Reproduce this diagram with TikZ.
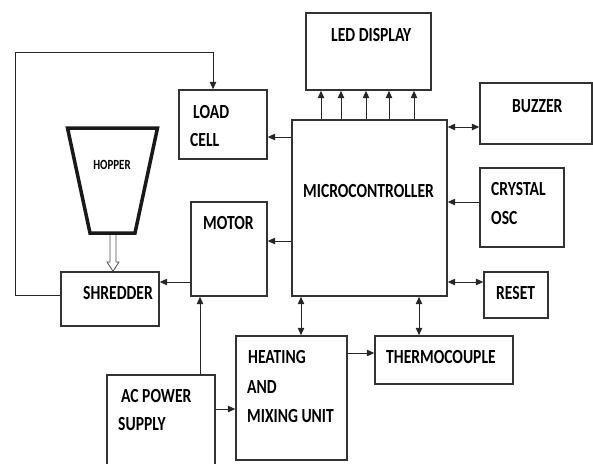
\documentclass[tikz,border=0pt]{standalone}
\usepackage{fontspec}
\newfontfamily\lblfont[FakeStretch=0.78]{Carlito}
\usetikzlibrary{arrows.meta, calc}

\begin{document}
\begin{tikzpicture}[x=1pt, y=-1pt,
    box/.style={draw=black!80, line width=1.4pt, inner sep=0pt},
    lbl/.style={inner sep=0pt, anchor=west, font=\lblfont\bfseries\fontsize{20}{23}\selectfont},
    arr/.style={-{Triangle[length=7.5pt,width=6.5pt]}, line width=1pt, black!85},
    dblarr/.style={{Triangle[length=7.5pt,width=6.5pt]}-{Triangle[length=7.5pt,width=6.5pt]}, line width=1pt, black!85}]

    % Frame (page size)
    \clip (0,0) rectangle (593,463);

    % Blocks
    \node[box, minimum width=125, minimum height=77] (led) at (368.5,51.5) {};
    \node[box, minimum width=155, minimum height=176] (micro) at (369.5,208) {};
    \node[box, minimum width=112, minimum height=61] (buzzer) at (536,113.5) {};
    \node[box, minimum width=84, minimum height=79] (crystal) at (522,207.5) {};
    \node[box, minimum width=88, minimum height=69] (load) at (223,124.5) {};
    \node[box, minimum width=76, minimum height=94] (motor) at (229,249) {};
    \node[box, minimum width=98, minimum height=54] (shredder) at (110,299) {};
    \node[box, minimum width=64, minimum height=46] (reset) at (516,295) {};
    \node[box, minimum width=138, minimum height=48] (thermo) at (444,360) {};
    \node[box, minimum width=111, minimum height=124] (heating) at (291.5,398) {};
    \node[box, minimum width=108, minimum height=110] (acps) at (161,430) {};

    % Hopper (thick trapezium)
    \draw[line width=3.5pt, black!90, line join=miter] (67.5,128) -- (157.5,128) -- (135,233) -- (90,233) -- cycle;
    \coordinate (hopbot) at (113,235);
    \node[inner sep=0pt, font=\lblfont\bfseries\fontsize{14}{16}\selectfont] (hopper) at (112,165) {HOPPER};

    % Labels
    \node[lbl] (led-txt) at (331,35) {LED DISPLAY};
    \node[lbl] (micro-txt) at (303,191) {MICROCONTROLLER};
    \node[lbl] (buzzer-txt) at (512,106) {BUZZER};
    \node[lbl] (crystal-txt) at (491,189) {CRYSTAL};
    \node[lbl] (osc-txt) at (491,218) {OSC};
    \node[lbl] (load-txt) at (193,112) {LOAD};
    \node[lbl] (cell-txt) at (190,140) {CELL};
    \node[lbl] (motor-txt) at (203,223) {MOTOR};
    \node[lbl] (shredder-txt) at (83,293) {SHREDDER};
    \node[lbl] (reset-txt) at (496,293) {RESET};
    \node[lbl] (thermo-txt) at (386,357) {THERMOCOUPLE};
    \node[lbl] (heating-txt) at (248,357) {HEATING};
    \node[lbl] (and-txt) at (247,387) {AND};
    \node[lbl] (mixing-txt) at (247,416) {MIXING UNIT};
    \node[lbl] (ac-txt) at (121,396) {AC POWER};
    \node[lbl] (supply-txt) at (118,424) {SUPPLY};

    % Microcontroller to LED display (5 lines)
    \foreach \x in {321,341,366,389,414} {
        \draw[arr] (micro.north -| \x,0) -- (led.south -| \x,0);
    }

    % Peripherals on the right
    \draw[dblarr] (micro.east |- 0,127) -- (buzzer.west |- 0,127);
    \draw[arr] (crystal.west |- 0,202) -- (micro.east |- 0,202);
    \draw[dblarr] (micro.east |- 0,282) -- (reset.west |- 0,282);

    % Left side
    \draw[arr] (micro.west |- 0,137) -- (load.east |- 0,137);
    \draw[arr] (micro.west |- 0,241) -- (motor.east |- 0,241);
    \draw[arr] (motor.west |- 0,282) -- (shredder.east |- 0,282);
    \draw[arr] (shredder.west |- 0,295) -- ++(-45,0) |- (213,52) -- (load.north -| 213,0);

    % Hopper feed (hollow arrow)
    \draw[line width=0.8pt, black!70, line join=miter]
        ($(hopbot)+(-3,0)$) -- ($(hopbot)+(-3,27)$) -- ($(hopbot)+(-6,27)$)
        -- (shredder.north -| hopbot) -- ($(hopbot)+(6,27)$) -- ($(hopbot)+(3,27)$)
        -- ($(hopbot)+(3,0)$);

    % Bottom
    \draw[dblarr] (micro.south -| 301,0) -- (heating.north -| 301,0);
    \draw[dblarr] (micro.south -| 419,0) -- (thermo.north -| 419,0);
    \draw[arr] (heating.east |- 0,353) -- (thermo.west |- 0,353);
    \draw[arr] (acps.east |- 0,409) -- (heating.west |- 0,409);
    \draw[arr] (acps.north -| 200,0) -- (motor.south -| 200,0);

\end{tikzpicture}
\end{document}
